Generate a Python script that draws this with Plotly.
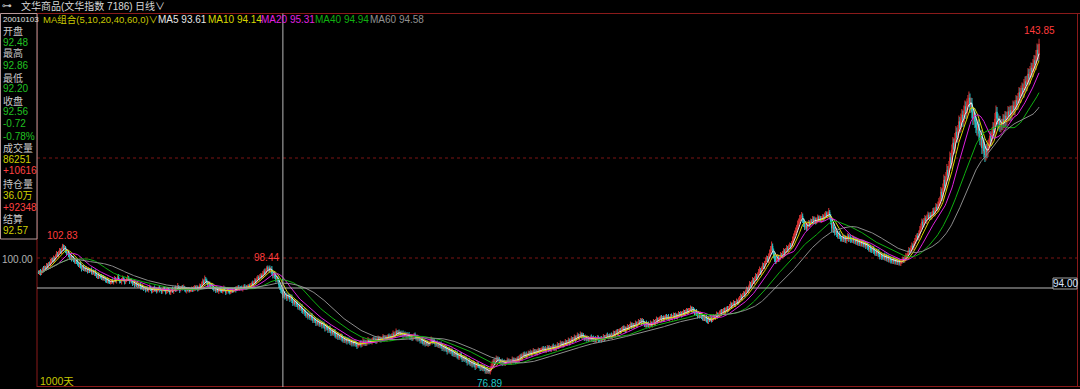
import plotly.graph_objects as go
import pandas as pd

# ---------------- data (daily closes) ----------------
closes = [
    97.0, 97.4, 96.8, 97.3, 97.9, 97.5, 98.2, 98.0, 98.6, 98.3, 99.0, 98.7, 99.3, 99.8, 99.4, 100.1, 99.7, 100.4, 100.9, 100.5, 101.2, 101.6, 101.1, 101.9, 102.4,
    101.8, 102.2, 101.5, 100.9, 101.3, 100.6, 100.0, 100.5, 99.8, 100.2, 99.6, 99.1, 99.7, 99.3, 98.8, 98.4, 98.9, 98.2, 97.8, 98.3, 97.7, 98.1, 97.5, 97.9, 97.3,
    97.8, 97.4, 97.6, 97.0, 97.4, 96.9, 97.3, 96.7, 96.2, 96.6, 96.1, 96.5, 96.4, 95.9, 96.3, 95.7, 96.1, 95.6, 95.2, 95.7, 95.3, 95.0, 95.2, 95.6, 95.1,
    95.5, 95.9, 95.4, 95.8, 96.2, 95.7, 95.3, 95.2, 95.7, 96.0, 95.5, 95.1, 95.4, 95.8, 96.1, 95.7, 95.3, 95.6, 95.2, 94.8, 95.1, 94.6, 94.9, 94.4, 94.7,
    94.3, 94.6, 94.2, 93.9, 94.3, 93.8, 94.1, 93.6, 94.0, 93.5, 93.9, 94.2, 93.6, 93.3, 93.7, 94.0, 93.5, 93.8, 93.3, 93.7, 94.1, 93.6, 93.6, 93.2, 93.7,
    94.0, 93.5, 93.1, 93.5, 93.9, 93.4, 93.0, 93.4, 93.8, 93.3, 93.7, 94.1, 93.6, 94.0, 94.4, 93.9, 93.5, 94.0, 94.3, 93.8, 94.2, 93.7, 93.4, 93.8, 93.5,
    93.9, 93.4, 93.6, 94.0, 93.5, 93.9, 94.3, 93.8, 94.2, 93.7, 94.1, 94.5, 94.2, 94.8, 95.3, 95.0, 95.7, 95.6, 95.1, 94.6, 95.0, 94.5, 94.2, 94.6, 94.0,
    93.6, 93.9, 93.4, 93.8, 93.3, 93.6, 93.9, 93.5, 93.2, 93.6, 94.0, 93.5, 93.1, 93.5, 93.8, 93.3, 93.0, 93.4, 93.7, 93.3, 93.6, 94.0, 93.6, 93.9, 94.2,
    93.8, 94.1, 94.0, 93.7, 94.1, 94.4, 94.0, 94.3, 93.9, 94.2, 94.6, 94.3, 94.6, 95.0, 94.7, 95.2, 95.6, 95.2, 95.8, 96.2, 95.8, 96.3, 96.6, 96.2, 96.9,
    97.3, 96.9, 97.6, 98.1, 97.7, 98.0, 97.4, 97.8, 97.0, 96.5, 96.9, 96.2, 95.7, 96.1, 95.5, 94.6, 94.1, 93.6, 93.28, 92.56, 92.9, 92.3, 92.7, 92.0, 92.5,
    92.4, 91.8, 92.2, 91.5, 91.0, 91.4, 90.8, 91.2, 90.6, 90.2, 90.6, 89.9, 90.3, 89.6, 89.2, 89.6, 89.0, 88.5, 88.9, 88.3, 88.6, 88.1, 88.5, 87.9, 87.5,
    87.9, 87.4, 87.0, 87.5, 86.9, 87.2, 86.7, 87.1, 86.5, 86.9, 86.3, 85.9, 86.4, 86.0, 85.6, 86.0, 85.4, 85.0, 85.5, 84.9, 85.3, 84.7, 84.3, 84.8, 84.2,
    84.4, 84.0, 84.5, 83.9, 83.5, 83.9, 83.4, 83.8, 83.3, 83.7, 83.4, 83.0, 83.4, 82.9, 83.3, 82.8, 83.2, 82.7, 82.4, 82.8, 82.8, 83.1, 82.6, 83.0, 83.4,
    82.9, 83.3, 82.8, 83.2, 83.6, 83.2, 83.5, 83.1, 83.5, 83.9, 83.4, 83.8, 83.3, 83.7, 84.1, 83.6, 83.9, 83.5, 83.9, 84.3, 83.8, 84.2, 83.7, 84.1, 84.5,
    84.0, 84.3, 83.9, 84.4, 84.8, 84.4, 84.9, 85.3, 84.8, 85.2, 84.8, 85.1, 84.6, 85.0, 84.5, 84.9, 84.4, 84.8, 84.3, 84.7, 84.4, 84.0, 84.4, 83.9, 84.3,
    84.7, 84.2, 83.8, 84.2, 83.7, 83.8, 83.4, 83.8, 83.3, 82.9, 83.3, 82.8, 83.2, 82.7, 83.0, 82.8, 83.3, 83.7, 83.2, 83.6, 83.1, 82.7, 83.0, 82.5, 82.9,
    82.4, 82.8, 82.3, 81.9, 82.3, 81.8, 82.2, 81.7, 81.3, 81.8, 81.6, 81.2, 81.6, 81.0, 80.7, 81.1, 80.6, 81.0, 80.5, 80.1, 80.4, 80.8, 80.2, 79.8, 80.2,
    79.7, 80.0, 79.5, 79.1, 79.5, 79.2, 78.8, 79.2, 78.7, 79.1, 78.6, 78.2, 78.6, 78.9, 78.4, 78.4, 78.0, 78.4, 77.9, 78.3, 77.8, 77.4, 77.8, 77.3, 77.6,
    77.2, 77.7, 78.4, 78.9, 79.4, 79.0, 79.6, 80.0, 79.5, 79.9, 79.4, 79.0, 79.4, 78.9, 79.3, 78.8, 79.2, 79.2, 79.6, 79.1, 79.5, 79.0, 79.4, 79.8, 79.3,
    79.7, 79.2, 79.6, 80.0, 79.6, 80.1, 80.5, 80.0, 80.4, 80.9, 80.4, 80.8, 80.3, 80.7, 81.1, 80.8, 81.2, 80.7, 81.1, 81.5, 81.0, 81.4, 80.9, 81.3, 81.7,
    81.2, 81.6, 81.6, 82.0, 81.5, 81.9, 81.4, 81.8, 82.2, 81.7, 82.1, 81.6, 82.0, 82.4, 81.9, 82.3, 81.8, 82.2, 82.7, 82.2, 82.6, 83.0, 82.6, 83.0, 82.5,
    82.9, 83.3, 82.8, 83.2, 83.6, 83.0, 83.5, 83.9, 83.4, 83.8, 84.2, 83.7, 84.1, 84.6, 84.0, 84.4, 84.8, 84.3, 84.7, 84.2, 83.8, 84.2, 83.7, 84.1, 83.6,
    83.8, 84.2, 83.7, 84.1, 83.5, 83.9, 83.4, 83.8, 84.2, 83.7, 83.6, 84.0, 83.5, 83.9, 84.3, 83.8, 84.2, 84.6, 84.1, 84.5, 84.2, 84.6, 84.1, 84.6, 85.0,
    84.6, 85.0, 85.4, 84.9, 85.3, 85.6, 85.2, 85.7, 86.1, 85.6, 86.0, 85.5, 85.9, 86.3, 85.9, 86.4, 86.8, 86.3, 86.7, 86.2, 86.6, 87.0, 86.5, 86.9, 87.3,
    87.2, 87.6, 87.1, 87.5, 87.0, 86.6, 87.0, 86.5, 86.9, 86.4, 86.6, 87.0, 86.5, 86.9, 87.3, 86.9, 87.4, 87.8, 87.3, 87.7, 87.8, 88.2, 87.7, 88.1, 87.6,
    88.0, 88.4, 87.9, 88.3, 87.8, 88.0, 88.4, 87.9, 88.3, 88.7, 88.2, 88.6, 88.1, 88.5, 88.9, 88.6, 89.0, 88.5, 88.9, 89.3, 88.8, 89.2, 89.6, 89.1, 89.5,
    89.6, 90.0, 89.5, 89.9, 89.4, 89.0, 89.4, 88.9, 88.5, 88.9, 88.4, 88.8, 88.3, 87.9, 88.3, 87.8, 88.2, 87.7, 87.3, 87.7, 87.6, 88.0, 87.5, 87.9, 88.3,
    88.0, 88.4, 88.8, 88.3, 88.7, 89.0, 89.4, 88.9, 89.3, 89.7, 89.2, 89.6, 90.0, 89.5, 89.9, 90.4, 90.8, 90.3, 90.7, 91.1, 90.6, 91.0, 91.4, 91.0, 91.6,
    92.0, 92.4, 91.9, 92.5, 93.0, 92.6, 93.2, 93.7, 93.3, 94.0, 94.8, 94.3, 95.0, 95.6, 95.1, 95.8, 96.4, 95.9, 96.6, 97.2, 97.6, 97.0, 97.8, 98.5, 98.1,
    98.9, 99.5, 100.0, 99.4, 100.3, 101.0, 101.6, 102.4, 101.5, 100.6, 100.0, 99.4, 99.6, 100.2, 99.7, 100.1, 100.6, 100.4, 100.9, 101.4, 100.9, 101.5, 102.0, 101.6, 102.2,
    102.6, 102.3, 102.8, 103.6, 104.3, 105.0, 105.4, 106.0, 106.8, 107.3, 107.9, 108.2, 108.4, 107.6, 106.9, 106.2, 106.5, 106.0, 106.6, 107.1, 106.7, 107.3, 107.2, 107.8, 107.3,
    107.7, 107.2, 107.6, 108.1, 107.6, 108.0, 107.5, 107.8, 108.3, 107.9, 108.5, 108.9, 108.4, 108.8, 109.2, 108.3, 107.4, 106.0, 106.6, 105.7, 105.1, 105.6, 104.8, 104.4, 104.9,
    104.3, 103.9, 103.8, 104.3, 103.7, 104.1, 103.5, 103.9, 104.4, 103.8, 104.2, 103.6, 103.6, 104.0, 103.4, 103.8, 103.2, 103.6, 103.0, 103.4, 102.9, 103.3, 102.8, 103.2, 102.6,
    103.0, 102.4, 102.8, 102.2, 101.8, 102.2, 101.6, 101.6, 102.0, 101.4, 101.0, 101.4, 100.9, 101.3, 100.7, 100.3, 100.7, 100.2, 100.2, 100.6, 100.0, 100.4, 99.8, 100.2, 99.6,
    99.9, 99.5, 99.4, 99.8, 99.3, 99.6, 99.2, 99.5, 99.1, 99.4, 99.0, 99.3, 99.4, 99.8, 99.5, 100.0, 100.4, 100.4, 100.9, 101.5, 101.2, 101.9, 102.4, 102.1, 102.8,
    103.4, 103.9, 104.4, 104.0, 104.8, 105.6, 106.3, 107.2, 106.6, 107.4, 107.9, 107.4, 108.1, 108.6, 108.0, 108.5, 108.2, 108.8, 109.4, 108.9, 109.6, 110.2, 109.8, 110.6, 111.2,
    111.5, 113.2, 112.3, 114.0, 115.6, 114.4, 116.2, 117.6, 116.5, 118.4, 120.1, 118.9, 121.6, 123.0, 121.8, 123.9, 125.2, 124.0, 125.6, 127.3, 126.0, 127.8, 128.6, 127.2, 129.4,
    130.3, 128.9, 130.8, 131.4, 132.0, 130.2, 131.0, 129.2, 127.8, 129.0, 127.3, 126.2, 125.6, 126.8, 124.9, 123.7, 124.6, 122.0, 123.2, 121.4, 120.6, 122.0, 121.2, 122.6, 123.0,
    124.4, 123.5, 125.0, 126.2, 125.1, 127.8, 129.2, 128.0, 126.8, 127.5, 126.3, 126.9, 126.6, 127.8, 127.0, 128.4, 127.6, 128.2, 129.3, 128.4, 129.5, 128.7, 129.6, 130.4, 129.6,
    130.6, 131.5, 130.8, 132.0, 133.1, 132.2, 133.5, 134.0, 133.2, 134.6, 135.3, 134.5, 135.6, 136.8, 135.9, 137.2, 138.0, 137.3, 138.6, 139.5, 138.8, 140.4, 141.6, 140.7, 142.8,
]
first_open = 97.2

# shadow lengths above / below the candle body, in tenths of a point
wick_up = [
    3, 2, 4, 3, 2, 5, 3, 2, 4, 3, 2, 3, 5, 2, 3, 4, 2, 3, 5, 3, 2, 4, 3, 2, 4,
    3, 4, 2, 3, 5, 2, 3, 4, 2, 3, 2, 4, 3, 2, 5, 3, 2, 4, 2, 3, 4, 2, 3, 5, 2,
    4, 2, 3, 5, 2, 3, 2, 4, 3, 2, 5, 3, 2, 4, 2, 3, 3, 2, 4, 5, 2, 3, 4, 2, 3,
    2, 5, 3, 2, 4, 6, 2, 3, 3, 5, 2, 4, 3, 2, 5, 3, 2, 4, 3, 2, 3, 4, 2, 3, 5,
    3, 2, 4, 3, 5, 2, 3, 2, 4, 3, 2, 5, 3, 4, 2, 3, 5, 2, 3, 4, 2, 3, 4, 2, 3,
    4, 3, 2, 5, 3, 2, 4, 3, 2, 5, 3, 2, 4, 3, 6, 2, 3, 4, 2, 3, 5, 2, 3, 4, 2,
    3, 2, 4, 3, 2, 5, 3, 2, 4, 3, 2, 4, 3, 5, 6, 4, 8, 5, 3, 2, 4, 3, 2, 4, 3,
    2, 4, 3, 2, 5, 3, 2, 4, 3, 2, 5, 3, 2, 4, 3, 2, 3, 5, 2, 3, 4, 2, 3, 5, 3,
    4, 2, 3, 5, 2, 3, 4, 2, 3, 5, 2, 3, 4, 3, 5, 2, 4, 3, 5, 4, 3, 5, 4, 3, 5,
    4, 6, 3, 5, 4, 3, 5, 4, 6, 3, 4, 3, 5, 4, 3, 4, 5, 3, 4, 3, 4, 5, 3, 4, 3,
    3, 4, 3, 5, 3, 4, 3, 4, 3, 5, 3, 4, 3, 5, 3, 4, 3, 5, 3, 4, 3, 4, 3, 5, 3,
    4, 3, 5, 3, 4, 3, 5, 3, 4, 3, 4, 3, 5, 3, 4, 3, 5, 3, 4, 3, 4, 5, 3, 4, 3,
    4, 3, 5, 3, 4, 3, 5, 3, 4, 3, 4, 3, 5, 3, 4, 3, 4, 3, 5, 3, 4, 3, 5, 3, 6,
    3, 4, 3, 5, 6, 3, 4, 3, 5, 3, 4, 3, 5, 3, 4, 3, 5, 3, 4, 5, 3, 4, 3, 5, 3,
    4, 3, 5, 6, 7, 4, 5, 6, 3, 4, 5, 3, 4, 3, 5, 3, 4, 3, 4, 3, 5, 3, 4, 3, 4,
    3, 4, 3, 5, 3, 4, 3, 4, 3, 5, 3, 4, 3, 4, 5, 3, 5, 6, 3, 4, 3, 4, 3, 5, 3,
    4, 3, 5, 3, 4, 3, 5, 3, 4, 3, 4, 3, 5, 3, 4, 3, 5, 3, 4, 3, 5, 3, 4, 3, 4,
    3, 5, 3, 4, 3, 5, 3, 4, 3, 5, 3, 4, 3, 5, 3, 4, 3, 5, 3, 4, 3, 4, 3, 5, 3,
    2, 4, 5, 6, 4, 5, 4, 5, 3, 4, 3, 4, 3, 5, 3, 4, 3, 4, 5, 3, 4, 3, 4, 5, 3,
    4, 3, 5, 3, 4, 5, 3, 4, 5, 3, 4, 3, 5, 3, 4, 3, 5, 3, 4, 5, 3, 4, 3, 5, 4,
    3, 4, 5, 3, 4, 3, 5, 3, 4, 3, 5, 3, 4, 3, 5, 3, 4, 3, 5, 3, 4, 5, 3, 4, 3,
    4, 5, 3, 4, 5, 3, 4, 5, 3, 4, 5, 3, 4, 5, 3, 4, 5, 3, 4, 3, 4, 5, 3, 4, 3,
    4, 3, 5, 3, 4, 3, 5, 3, 4, 3, 5, 3, 4, 3, 5, 3, 4, 3, 5, 3, 4, 3, 5, 3, 5,
    4, 5, 3, 4, 5, 3, 4, 5, 3, 4, 5, 3, 4, 5, 3, 4, 5, 3, 4, 3, 4, 5, 3, 4, 5,
    3, 4, 3, 5, 3, 4, 3, 5, 3, 4, 3, 5, 3, 4, 5, 3, 4, 5, 3, 4, 5, 3, 4, 3, 4,
    5, 3, 4, 3, 5, 3, 4, 5, 3, 4, 3, 5, 3, 4, 5, 3, 4, 3, 5, 4, 3, 5, 4, 3, 5,
    4, 5, 3, 4, 3, 5, 3, 4, 3, 4, 3, 5, 3, 4, 3, 5, 3, 4, 3, 4, 3, 5, 3, 4, 5,
    3, 4, 5, 3, 4, 5, 3, 4, 5, 3, 4, 5, 3, 4, 5, 4, 5, 3, 4, 5, 3, 4, 5, 3, 5,
    4, 5, 3, 5, 4, 3, 5, 6, 4, 5, 6, 4, 5, 6, 4, 5, 6, 4, 5, 6, 7, 4, 5, 6, 5,
    5, 6, 5, 4, 6, 7, 8, 9, 5, 4, 5, 4, 5, 6, 4, 5, 6, 4, 5, 6, 4, 5, 6, 4, 5,
    5, 4, 6, 7, 6, 5, 7, 6, 7, 6, 7, 5, 8, 5, 4, 5, 6, 4, 6, 5, 4, 6, 5, 6, 5,
    6, 4, 5, 6, 4, 5, 4, 6, 5, 4, 6, 5, 4, 5, 8, 4, 5, 4, 5, 4, 5, 6, 4, 5, 4,
    5, 4, 5, 6, 4, 5, 4, 5, 6, 4, 5, 4, 5, 6, 4, 5, 4, 5, 4, 5, 4, 5, 4, 5, 4,
    5, 4, 5, 4, 5, 4, 5, 4, 5, 4, 5, 4, 5, 4, 5, 4, 5, 4, 5, 4, 5, 4, 5, 4, 5,
    4, 5, 4, 5, 4, 5, 4, 5, 4, 5, 4, 5, 4, 5, 4, 5, 6, 5, 6, 7, 5, 6, 7, 5, 6,
    6, 7, 5, 6, 7, 8, 6, 7, 5, 6, 7, 5, 6, 7, 5, 6, 7, 5, 6, 7, 5, 8, 6, 7, 8,
    8, 10, 7, 9, 11, 8, 10, 12, 8, 10, 12, 9, 11, 12, 9, 11, 12, 9, 10, 12, 9, 11, 12, 9, 11,
    12, 10, 11, 12, 13, 9, 11, 10, 9, 10, 9, 10, 8, 9, 10, 8, 9, 10, 8, 9, 10, 8, 9, 10, 9,
    10, 9, 11, 10, 9, 12, 13, 10, 9, 10, 9, 10, 9, 10, 9, 10, 9, 10, 11, 9, 10, 9, 10, 11, 9,
    10, 11, 9, 10, 11, 9, 10, 11, 9, 12, 10, 11, 9, 12, 10, 12, 11, 10, 12, 11, 10, 12, 13, 11, 14,
]
wick_dn = [
    2, 4, 3, 2, 3, 4, 2, 3, 2, 4, 3, 2, 3, 4, 2, 3, 4, 2, 3, 2, 4, 3, 2, 3, 2,
    4, 3, 5, 3, 2, 4, 3, 2, 5, 3, 4, 2, 3, 5, 3, 2, 4, 3, 5, 2, 3, 4, 2, 3, 4,
    3, 4, 2, 3, 4, 2, 5, 3, 2, 4, 3, 2, 5, 3, 4, 2, 3, 5, 2, 3, 4, 2, 3, 4, 2,
    4, 2, 3, 5, 2, 3, 4, 2, 5, 3, 2, 4, 3, 2, 4, 3, 5, 2, 3, 4, 2, 5, 3, 2, 4,
    2, 3, 5, 2, 3, 4, 2, 5, 3, 2, 4, 3, 2, 4, 3, 5, 2, 3, 4, 2, 3, 5, 2, 4, 3,
    3, 2, 4, 3, 5, 2, 3, 4, 2, 3, 5, 2, 4, 3, 2, 3, 5, 2, 4, 3, 2, 4, 3, 5, 2,
    4, 3, 2, 4, 3, 2, 5, 3, 2, 4, 3, 2, 3, 4, 3, 4, 3, 4, 3, 4, 5, 3, 4, 3, 4,
    3, 2, 4, 3, 2, 5, 3, 4, 2, 3, 4, 2, 5, 3, 2, 4, 3, 2, 4, 3, 2, 3, 5, 2, 3,
    2, 4, 3, 2, 4, 3, 2, 4, 3, 2, 4, 3, 2, 4, 3, 2, 3, 4, 3, 2, 3, 4, 3, 4, 3,
    3, 4, 3, 5, 4, 6, 4, 5, 4, 6, 5, 4, 6, 5, 4, 6, 5, 6, 5, 6, 5, 6, 5, 6, 5,
    5, 6, 4, 5, 6, 4, 5, 6, 4, 5, 6, 4, 5, 6, 4, 5, 6, 4, 5, 6, 4, 5, 6, 4, 5,
    5, 4, 6, 5, 4, 6, 5, 4, 6, 5, 4, 6, 5, 4, 6, 5, 4, 6, 5, 4, 5, 6, 4, 5, 6,
    5, 4, 5, 6, 4, 5, 4, 5, 6, 4, 5, 4, 5, 6, 4, 5, 4, 5, 6, 4, 5, 4, 5, 4, 5,
    4, 5, 4, 3, 4, 5, 4, 3, 4, 5, 4, 3, 5, 4, 3, 4, 5, 4, 3, 4, 5, 4, 3, 4, 5,
    4, 5, 4, 3, 4, 3, 4, 3, 5, 4, 3, 5, 4, 3, 5, 4, 3, 5, 4, 3, 5, 4, 3, 5, 4,
    5, 4, 3, 5, 4, 3, 5, 4, 5, 4, 3, 5, 4, 3, 5, 4, 3, 4, 5, 4, 3, 5, 4, 3, 5,
    4, 5, 4, 5, 4, 5, 4, 5, 6, 4, 5, 4, 5, 6, 4, 5, 4, 5, 6, 4, 5, 4, 5, 6, 4,
    5, 4, 5, 6, 4, 5, 4, 5, 6, 4, 5, 6, 4, 5, 4, 5, 6, 4, 5, 6, 4, 5, 6, 4, 5,
    6, 5, 4, 3, 4, 3, 4, 3, 4, 5, 4, 3, 4, 5, 4, 3, 4, 5, 4, 3, 4, 3, 4, 5, 4,
    3, 4, 3, 4, 3, 4, 3, 4, 5, 3, 4, 3, 4, 3, 4, 5, 3, 4, 3, 4, 3, 4, 3, 4, 3,
    4, 3, 4, 5, 3, 4, 3, 4, 3, 5, 4, 3, 4, 3, 4, 5, 3, 4, 3, 4, 3, 4, 3, 5, 4,
    3, 4, 3, 4, 3, 5, 4, 3, 4, 3, 4, 5, 3, 4, 3, 4, 3, 4, 5, 3, 4, 3, 4, 3, 4,
    4, 3, 4, 5, 3, 4, 3, 4, 3, 5, 4, 3, 4, 3, 4, 5, 3, 4, 3, 4, 3, 4, 3, 4, 3,
    3, 4, 3, 4, 5, 3, 4, 3, 4, 3, 4, 5, 3, 4, 3, 4, 3, 5, 4, 3, 4, 3, 4, 3, 4,
    4, 3, 5, 4, 3, 4, 5, 4, 3, 4, 5, 4, 3, 4, 3, 4, 5, 3, 4, 3, 4, 3, 5, 4, 3,
    3, 4, 3, 4, 3, 5, 4, 3, 4, 3, 5, 4, 3, 4, 3, 4, 3, 4, 3, 5, 4, 3, 4, 3, 4,
    4, 3, 4, 5, 4, 5, 4, 5, 6, 4, 5, 4, 5, 4, 5, 4, 5, 6, 4, 5, 4, 3, 4, 3, 4,
    3, 4, 3, 4, 3, 4, 3, 4, 3, 4, 3, 4, 3, 4, 3, 4, 3, 4, 3, 4, 3, 4, 3, 4, 3,
    3, 4, 3, 4, 3, 4, 3, 4, 3, 4, 3, 4, 3, 4, 3, 4, 3, 4, 3, 4, 3, 4, 3, 4, 3,
    4, 3, 4, 3, 4, 3, 4, 3, 6, 7, 8, 6, 5, 4, 5, 4, 5, 4, 5, 4, 5, 4, 5, 4, 5,
    4, 5, 4, 5, 4, 5, 4, 5, 4, 5, 4, 5, 4, 6, 7, 6, 5, 6, 5, 4, 5, 4, 5, 4, 5,
    4, 5, 4, 5, 4, 5, 4, 5, 4, 5, 4, 5, 4, 5, 4, 6, 7, 8, 6, 7, 6, 5, 6, 5, 6,
    5, 6, 5, 6, 5, 6, 5, 6, 5, 6, 5, 6, 5, 6, 5, 6, 5, 6, 5, 6, 5, 6, 5, 6, 5,
    5, 6, 5, 6, 5, 6, 5, 6, 5, 6, 5, 6, 5, 6, 5, 6, 5, 6, 5, 6, 5, 6, 5, 6, 5,
    5, 6, 5, 6, 5, 6, 5, 6, 5, 6, 5, 6, 5, 4, 5, 4, 5, 4, 5, 4, 5, 4, 5, 4, 5,
    4, 5, 4, 5, 4, 5, 4, 5, 6, 5, 4, 5, 6, 5, 4, 5, 6, 5, 4, 5, 6, 5, 4, 5, 6,
    7, 8, 9, 7, 8, 9, 7, 8, 10, 8, 9, 10, 8, 9, 10, 8, 9, 10, 8, 9, 10, 8, 9, 10, 8,
    9, 11, 10, 12, 9, 12, 11, 13, 12, 11, 13, 12, 11, 13, 12, 11, 14, 12, 11, 13, 14, 11, 12, 10, 11,
    10, 12, 9, 11, 12, 10, 11, 12, 13, 10, 11, 12, 10, 11, 10, 11, 12, 10, 11, 10, 11, 12, 10, 11, 10,
    11, 10, 12, 11, 10, 12, 11, 10, 12, 11, 10, 12, 11, 10, 12, 11, 10, 12, 11, 13, 10, 12, 11, 13, 10,
]

# labelled extremes (index, value)
high_marks_idx = [24, 228, 999]
high_marks_val = [102.83, 98.44, 143.85]
low_marks_idx = [450]
low_marks_val = [76.89]

ma_periods = [5, 10, 20, 40, 60]
ma_colors = ["#e6e6e6", "#d8d800", "#e020e0", "#10b010", "#8c8c8c"]

crosshair_idx = 244
crosshair_price = 94.0
grid_levels = [100, 120]

panel_rows = [
    ("20010103", "#e0e0e0", "num_s"),
    ("开盘", "#c8c8c8", "cjk"), ("92.48", "#20c020", "num"),
    ("最高", "#c8c8c8", "cjk"), ("92.86", "#20c020", "num"),
    ("最低", "#c8c8c8", "cjk"), ("92.20", "#20c020", "num"),
    ("收盘", "#c8c8c8", "cjk"), ("92.56", "#20c020", "num"),
    ("-0.72", "#20c020", "num"), ("-0.78%", "#20c020", "num"),
    ("成交量", "#c8c8c8", "cjk"), ("86251", "#d0d000", "num"),
    ("+10616", "#ff4040", "num"),
    ("持仓量", "#c8c8c8", "cjk"), ("36.0万", "#d0d000", "num"),
    ("+92348", "#ff4040", "num"),
    ("结算", "#c8c8c8", "cjk"), ("92.57", "#d0d000", "num"),
]
header_items = [
    ("MA组合(5,10,20,40,60,0)∨", "#c8c800", 41, 9.5),
    ("MA5 93.61", "#e6e6e6", 156, 10),
    ("MA10 94.14", "#d8d800", 206, 10),
    ("MA20 95.31", "#e020e0", 259, 10),
    ("MA40 94.94", "#10b010", 313, 10),
    ("MA60 94.58", "#909090", 368, 10),
]

# ---------------- derived series ----------------
n = len(closes)
idx = list(range(n))
opens = [first_open] + closes[:-1]
highs = [max(o, c) + u / 10 for o, c, u in zip(opens, closes, wick_up)]
lows = [min(o, c) - d / 10 for o, c, d in zip(opens, closes, wick_dn)]
for i, v in zip(high_marks_idx, high_marks_val):
    highs[i] = v
for i, v in zip(low_marks_idx, low_marks_val):
    lows[i] = v
s = pd.Series(closes)

RED = "#d83434"
CYAN = "#28c4c8"
FRAME = "#8a1a1a"
NUMF = "Liberation Sans, Arial, Noto Sans CJK SC, sans-serif"
CJKF = "Noto Sans CJK SC, sans-serif"

W, H = 1080, 389
L, R, T, B = 37, 3, 14, 2
PW, PH = W - L - R, H - T - B


def px(x):
    return (x - L) / PW


def py(y):
    return (H - B - y) / PH


m = min(len(highs), len(lows))
fig = go.Figure()
fig.add_trace(go.Candlestick(
    x=idx[:m], open=opens[:m], high=highs[:m], low=lows[:m], close=closes[:m],
    increasing=dict(line=dict(color=RED, width=1), fillcolor=RED),
    decreasing=dict(line=dict(color=CYAN, width=1), fillcolor=CYAN),
    whiskerwidth=0, hoverinfo="skip", showlegend=False,
))
for p, col in zip(ma_periods, ma_colors):
    fig.add_trace(go.Scatter(
        x=idx, y=s.rolling(p, min_periods=1).mean(), mode="lines",
        line=dict(color=col, width=1), hoverinfo="skip", showlegend=False,
    ))

shapes = []
for g in grid_levels:
    shapes.append(dict(type="line", xref="paper", yref="y", x0=0, x1=1, y0=g, y1=g,
                       line=dict(color="#7a1414", width=1, dash="dot"), layer="below"))
# frame
shapes += [
    dict(type="line", xref="paper", yref="paper", x0=px(37), x1=px(1080), y0=py(13.5), y1=py(13.5),
         line=dict(color=FRAME, width=1)),
    dict(type="line", xref="paper", yref="paper", x0=px(37), x1=px(37), y0=py(13.5), y1=py(387),
         line=dict(color=FRAME, width=1)),
    dict(type="line", xref="paper", yref="paper", x0=px(37), x1=px(1080), y0=py(386.5), y1=py(386.5),
         line=dict(color=FRAME, width=1)),
    dict(type="line", xref="paper", yref="paper", x0=px(1077.5), x1=px(1077.5), y0=py(13.5), y1=py(387),
         line=dict(color=FRAME, width=1)),
]
# crosshair
shapes += [
    dict(type="line", xref="x", yref="paper", x0=crosshair_idx, x1=crosshair_idx, y0=0, y1=py(13.5),
         line=dict(color="#b8b8b8", width=1)),
    dict(type="line", xref="paper", yref="y", x0=0, x1=px(1053), y0=crosshair_price, y1=crosshair_price,
         line=dict(color="#b8b8b8", width=1)),
    dict(type="rect", xref="paper", yref="paper", x0=px(1053), x1=px(1077), y0=py(289), y1=py(278),
         line=dict(color="#a0a0a0", width=1), fillcolor="#000000"),
]
# info panel
shapes.append(dict(type="rect", xref="paper", yref="paper", x0=px(0.5), x1=px(37), y0=py(239), y1=py(13.5),
                   line=dict(color="#b89898", width=1), fillcolor="#000000"))

ann = []


def text(t, x, y, color, family, size, xanchor="left"):
    ann.append(dict(text=t, x=px(x), y=py(y), xref="paper", yref="paper", xanchor=xanchor,
                    yanchor="middle", showarrow=False, font=dict(color=color, family=family, size=size)))


text("⊶", 0, 6, "#c0c0c0", "DejaVu Sans", 10)
text("文华商品(文华指数 7186)", 19, 6, "#d8d8d8", NUMF, 10)
text("日线∨", 133, 6, "#d8d8d8", NUMF, 10)
for t, col, x, sz in header_items:
    text(t, x, 19, col, NUMF, sz)

row_y = [19, 30, 42, 53, 65, 77, 88, 100, 112, 124, 136, 147, 159, 171, 183, 195, 207, 219, 231]
for (t, col, kind), yy in zip(panel_rows, row_y):
    if kind == "cjk":
        text(t, 1, yy, col, CJKF, 10)
    elif kind == "num_s":
        text(t, 1, yy, col, NUMF, 8)
    else:
        text(t, 1, yy, col, NUMF, 10)

text("100.00", 35, 259, "#b0b0b0", NUMF, 10, xanchor="right")
text("94.00", 1065, 283.5, "#d8e4ff", NUMF, 10, xanchor="center")
text("1000天", 38, 381, "#c8c800", NUMF, 10.5)

for i, v in zip(high_marks_idx, high_marks_val):
    ann.append(dict(text=f"{v:.2f}", x=i, y=v, xref="x", yref="y", xanchor="center", yanchor="bottom",
                    yshift=1, showarrow=False, font=dict(color="#ff3c3c", family=NUMF, size=10)))
for i, v in zip(low_marks_idx, low_marks_val):
    ann.append(dict(text=f"{v:.2f}", x=i, y=v, xref="x", yref="y", xanchor="center", yanchor="top",
                    yshift=-2, showarrow=False, font=dict(color="#20c8c8", family=NUMF, size=10)))

fig.update_layout(
    width=W, height=H, autosize=False,
    margin=dict(l=L, r=R, t=T, b=B, pad=0),
    paper_bgcolor="#000000", plot_bgcolor="#000000",
    xaxis=dict(range=[-1.5, 1036.9], visible=False, rangeslider=dict(visible=False), fixedrange=True),
    yaxis=dict(range=[74.2, 148.8], visible=False, fixedrange=True),
    shapes=shapes, annotations=ann, showlegend=False,
)
fig.write_html("out.html", config=dict(displayModeBar=False))
